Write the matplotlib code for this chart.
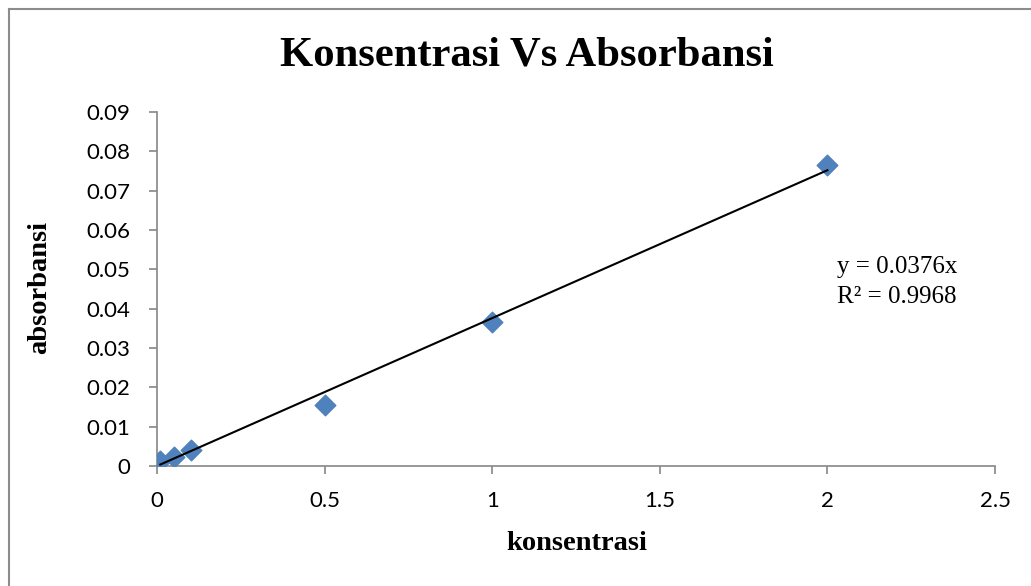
import matplotlib.pyplot as plt
from matplotlib.lines import Line2D

konsentrasi = [0.01, 0.05, 0.1, 0.5, 1.0, 2.0]
absorbansi = [0.0013, 0.0023, 0.0041, 0.0155, 0.0366, 0.0765]
slope = 0.0376
x_ticks = [0, 0.5, 1, 1.5, 2, 2.5]
y_ticks = [0, 0.01, 0.02, 0.03, 0.04, 0.05, 0.06, 0.07, 0.08, 0.09]

fig = plt.figure(figsize=(10.31, 5.86), dpi=100)
ax = fig.add_axes([157 / 1031, 1 - 466 / 586, (995 - 157) / 1031, (466 - 112) / 586])

ax.scatter(konsentrasi, absorbansi, marker='D', s=110, color='#4F81BD', zorder=3)
xs = [konsentrasi[0], konsentrasi[-1]]
ax.plot(xs, [slope * v for v in xs], color='black', lw=1.5, zorder=4)

ax.set_xlim(0, 2.5)
ax.set_ylim(0, 0.09)
ax.set_xticks(x_ticks)
ax.set_xticklabels(['0', '0.5', '1', '1.5', '2', '2.5'])
ax.set_yticks(y_ticks)
ax.set_yticklabels(['0', '0.01', '0.02', '0.03', '0.04', '0.05', '0.06', '0.07', '0.08', '0.09'])
ax.tick_params(axis='both', colors='#868686', labelcolor='black', labelsize=16, length=6, width=1.2,
               labelfontfamily='Lato')
ax.tick_params(axis='y', pad=13)
ax.tick_params(axis='x', pad=12)
for s in ['top', 'right']:
    ax.spines[s].set_visible(False)
for s in ['left', 'bottom']:
    ax.spines[s].set_color('#868686')
    ax.spines[s].set_linewidth(1.2)

serif = 'Liberation Serif'
fig.text(527 / 1031, 1 - 56 / 586, 'Konsentrasi Vs Absorbansi', ha='center', va='center',
         fontsize=30.7, fontweight='bold', family=serif)
fig.text(577 / 1031, 1 - 544 / 586, 'konsentrasi', ha='center', va='center',
         fontsize=20.5, fontweight='bold', family=serif)
fig.text(40 / 1031, 1 - 288 / 586, 'absorbansi', ha='center', va='center', rotation=90,
         fontsize=20.5, fontweight='bold', family=serif)
fig.text(837 / 1031, 1 - 267 / 586, 'y = 0.0376x', ha='left', va='center', fontsize=18, family=serif)
fig.text(837 / 1031, 1 - 297 / 586, 'R² = 0.9968', ha='left', va='center', fontsize=18, family=serif)

# frame on top and left only
fig.add_artist(Line2D([9 / 1031, 1], [1 - 9 / 586, 1 - 9 / 586], color='#8c8c8c', lw=1.5))
fig.add_artist(Line2D([9 / 1031, 9 / 1031], [0, 1 - 9 / 586], color='#8c8c8c', lw=1.5))

fig.savefig('out.png', dpi=100)
